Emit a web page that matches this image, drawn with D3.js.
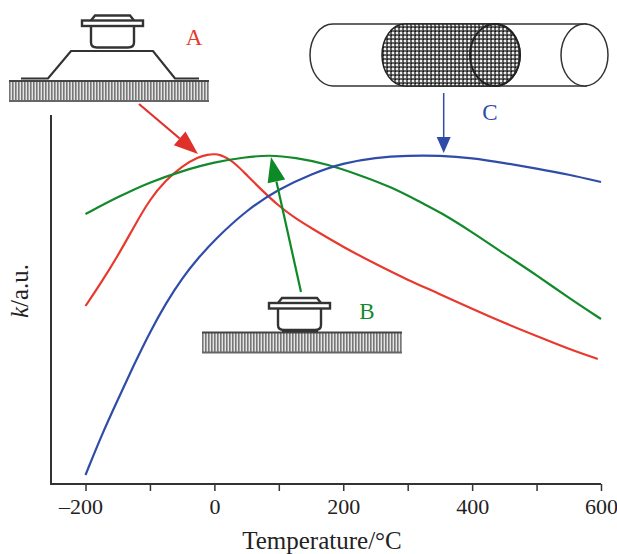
<!DOCTYPE html>
<html>
<head>
<meta charset="utf-8">
<script src="https://cdn.jsdelivr.net/npm/d3@7"></script>
<style>
  html, body { margin: 0; padding: 0; background: #fff; }
  svg { display: block; }
  text { font-family: "Liberation Serif", serif; fill: #222; }
</style>
</head>
<body>
<svg width="617" height="554"></svg>
<script>
// values, k in arbitrary units
var redT = [-200, -175, -150, -125, -100, -75, -50, -25, -10, 0, 10, 20, 35, 50, 75, 100, 125, 150, 200, 250, 300, 350, 400, 450, 500, 550, 595],
    redK = [178, 202, 228, 257, 285, 304, 318, 327, 329.5, 330, 329, 326, 319, 309, 293, 278, 266, 256, 237, 220, 204, 190, 175, 161, 148, 135, 125];
var greenT = [-200, -150, -100, -50, 0, 50, 85, 125, 175, 225, 275, 325, 350, 400, 450, 500, 550, 600],
    greenK = [270, 287, 302, 313, 322, 327, 329, 326.5, 320, 309, 297, 280, 272, 252, 230, 209, 186, 165];
var blueT = [-200, -175, -150, -125, -100, -75, -50, -25, 0, 50, 100, 150, 200, 250, 300, 350, 400, 450, 500, 550, 600],
    blueK = [9, 49, 84, 119, 152, 181, 206, 226, 244, 274, 295, 310, 321, 326.5, 328.5, 328.5, 326, 321, 315.5, 309.5, 302];
var xTicks = [-200, -100, 0, 100, 200, 300, 400, 500, 600],
    xLabels = {"-200": "\u2013200", "0": "0", "200": "200", "400": "400", "600": "600"};

var RED = "#e8392e", GREEN = "#128a2b", BLUE = "#2f4ca8", INK = "#333";

var svg = d3.select("svg");
var x = d3.scaleLinear().domain([-200, 600]).range([85.5, 601]);
var y = d3.scaleLinear().domain([0, 369]).range([484, 115]);
var line = d3.line().curve(d3.curveBasis);

var defs = svg.append("defs");
// the hatching of the support plates
var hatch = defs.append("pattern").attr("id", "hatch")
    .attr("patternUnits", "userSpaceOnUse").attr("width", 3).attr("height", 20);
hatch.append("rect").attr("width", 3).attr("height", 20).attr("fill", "#e4e4e4");
hatch.append("rect").attr("width", 1.6).attr("height", 20).attr("fill", "#777");
// the checker of the catalyst in the tube
var check = defs.append("pattern").attr("id", "check")
    .attr("patternUnits", "userSpaceOnUse").attr("width", 4).attr("height", 4);
check.append("rect").attr("width", 4).attr("height", 4).attr("fill", "#666");
check.append("rect").attr("x", 0).attr("y", 0).attr("width", 2).attr("height", 2).attr("fill", "#eee");
check.append("rect").attr("x", 2.5).attr("y", 2.5).attr("width", 1.5).attr("height", 1.5).attr("fill", "#111");

// axes
var xAxis = svg.append("g")
    .attr("transform", "translate(0,484)")
    .call(d3.axisBottom(x).tickValues(xTicks).tickSize(7).tickPadding(7)
      .tickFormat(function(d) { return xLabels[d] || ""; }));
xAxis.select(".domain").remove();
xAxis.selectAll("line").attr("stroke", INK).attr("stroke-width", 1.5);
xAxis.selectAll("text").attr("font-size", 22).attr("font-family", "Liberation Serif").attr("fill", "#222")
    .attr("dx", function(d) { return d < 0 ? -5 : 0; });
svg.append("line").attr("x1", 51).attr("x2", x(600)).attr("y1", 484).attr("y2", 484)
    .attr("stroke", INK).attr("stroke-width", 2);
svg.append("line").attr("x1", 51).attr("x2", 51).attr("y1", y(369)).attr("y2", 485)
    .attr("stroke", INK).attr("stroke-width", 2);

svg.append("text").attr("x", 322).attr("y", 549).attr("text-anchor", "middle")
    .attr("font-size", 25).text("Temperature/\u00b0C");
var yTitle = svg.append("text").attr("transform", "translate(28,291) rotate(-90)")
    .attr("text-anchor", "middle").attr("font-size", 25);
yTitle.append("tspan").attr("font-style", "italic").text("k");
yTitle.append("tspan").text("/a.u.");

// curves
[[redT, redK, RED], [greenT, greenK, GREEN], [blueT, blueK, BLUE]].forEach(function(s) {
  svg.append("path")
      .attr("d", line(s[0].map(function(t, i) { return [x(t), y(s[1][i])]; })))
      .attr("fill", "none").attr("stroke", s[2]).attr("stroke-width", 2.2);
});

function plate(px, py) {
  var g = svg.append("g").attr("transform", "translate(" + px + "," + py + ")");
  g.append("rect").attr("width", 200).attr("height", 20).attr("fill", "url(#hatch)");
  g.append("line").attr("x2", 200).attr("stroke", "#444").attr("stroke-width", 1.8);
  g.append("line").attr("x2", 200).attr("y1", 20).attr("y2", 20).attr("stroke", "#666").attr("stroke-width", 1.8);
}

function cup(px, py) {
  var g = svg.append("g").attr("transform", "translate(" + px + "," + py + ")")
      .attr("fill", "#fff").attr("stroke", "#333").attr("stroke-width", 2.4);
  g.append("path").attr("d", "M9,5 L9,22 Q9,27 15,27 L46,27 Q52,27 52,22 L52,5");
  g.append("path").attr("d", "M9,0 L13,-5 L48,-5 L52,0");
  g.append("rect").attr("x", 0).attr("width", 61).attr("height", 5.5);
}

function arrow(x0, y0, x1, y1, len, wide, color, sw) {
  var a = Math.atan2(y1 - y0, x1 - x0),
      bx = x1 - len * Math.cos(a), by = y1 - len * Math.sin(a),
      nx = -Math.sin(a) * wide / 2, ny = Math.cos(a) * wide / 2;
  svg.append("line").attr("x1", x0).attr("y1", y0).attr("x2", bx).attr("y2", by)
      .attr("stroke", color).attr("stroke-width", sw);
  svg.append("path")
      .attr("d", "M" + x1 + "," + y1 + "L" + (bx + nx) + "," + (by + ny) + "L" + (bx - nx) + "," + (by - ny) + "Z")
      .attr("fill", color);
}

function letter(s, px, py, color) {
  svg.append("text").attr("x", px).attr("y", py).attr("text-anchor", "middle")
      .attr("font-size", 23).style("fill", color).text(s);
}

// sketch A
svg.append("path").attr("d", "M21,78.5 L48,78.5 L71,51 L153,51 L175,78.5 L199,78.5")
    .attr("fill", "none").attr("stroke", "#333").attr("stroke-width", 2.2);
cup(82, 20.5);
plate(9, 81);
letter("A", 194, 45, RED);

// sketch B
plate(202, 332.5);
cup(269, 303);
svg.append("line").attr("x1", 282).attr("x2", 318).attr("y1", 331).attr("y2", 331)
    .attr("stroke", "#333").attr("stroke-width", 2.4);
letter("B", 367, 319, GREEN);

// sketch C, the tube
var tube = svg.append("g").attr("stroke", "#333").attr("stroke-width", 1.5);
tube.append("path").attr("d", "M333,24 L587,24 M333,86 L587,86 M333,24 A23,31 0 0 0 333,86")
    .attr("fill", "none");
tube.append("ellipse").attr("cx", 584.5).attr("cy", 55).attr("rx", 23.5).attr("ry", 31).attr("fill", "#fff");
tube.append("path").attr("d", "M405,24 L495,24 A25,31 0 0 1 495,86 L405,86 A23,31 0 0 1 405,24 Z")
    .attr("fill", "url(#check)").attr("stroke", "#222");
tube.append("ellipse").attr("cx", 495).attr("cy", 55).attr("rx", 25).attr("ry", 31)
    .attr("fill", "none").attr("stroke", "#222").attr("stroke-width", 2);
letter("C", 490, 120, BLUE);

// arrows from the sketches to the curves
arrow(139, 104, 198, 154, 24, 18, "#e0302a", 2.2);
arrow(301, 292, 271, 157, 25, 18, "#0d8a25", 2.2);
arrow(443.7, 93, 443.7, 153, 16, 14, BLUE, 1.5);
</script>
</body>
</html>
